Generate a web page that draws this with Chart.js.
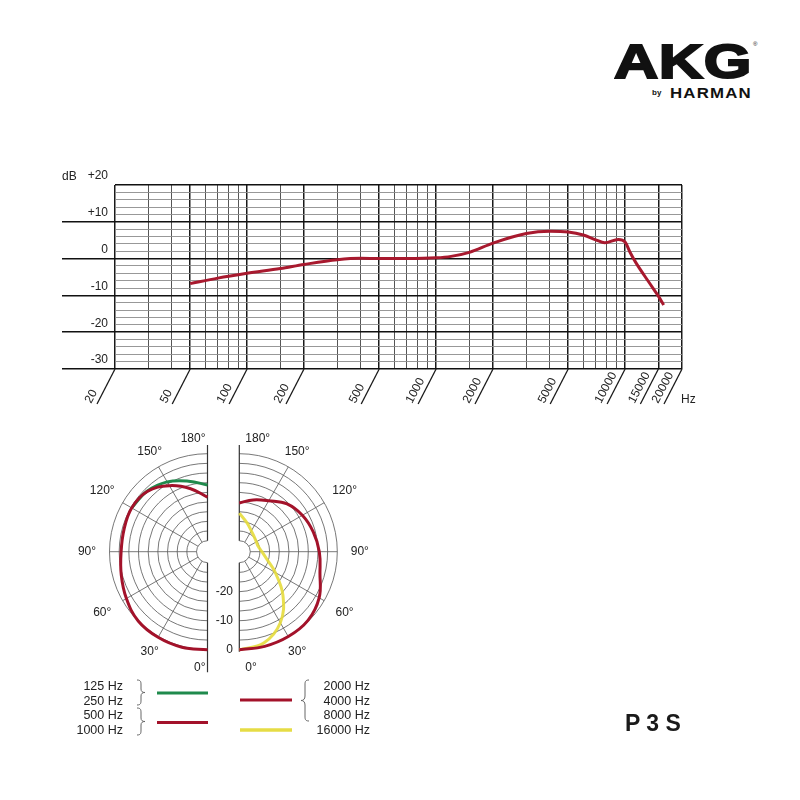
<!DOCTYPE html>
<html>
<head>
<meta charset="utf-8">
<script src="https://cdn.jsdelivr.net/npm/chart.js@4.4.1/dist/chart.umd.min.js"></script>
<style>
  body { margin: 0; background: #fff; }
  #page { position: relative; width: 800px; height: 800px; overflow: hidden;
          font-family: "Liberation Sans", Arial, sans-serif; color: #222; }
  .abs { position: absolute; white-space: nowrap; }
  #akg { left: 614px; top: 37px; font-size: 49px; font-weight: bold; line-height: 49px; color: #111;
         transform: scaleX(1.25); transform-origin: left top; -webkit-text-stroke: 2px #111; letter-spacing: 0.5px; }
  #reg { left: 753px; top: 41px; font-size: 6px; color: #111; }
  #by { left: 652px; top: 89px; font-size: 8px; font-weight: bold; color: #111; line-height: 8px; }
  #harman { left: 670px; top: 86px; font-size: 14px; line-height: 14px; font-weight: bold; color: #111;
            letter-spacing: 1px; transform: scaleX(1.2); transform-origin: left top; }
  #model { left: 625px; top: 712px; font-size: 23px; line-height: 23px; font-weight: bold; color: #1a1a1a; }
  .legtxt { font-size: 12.5px; line-height: 14.6px; text-align: right; color: #222; }
  #freqChart { position: absolute; left: 40px; top: 160px; }
  #polarChart { position: absolute; left: 60px; top: 420px; }
  #legendArt { position: absolute; left: 0; top: 0; }
</style>
</head>
<body>
<div id="page">
  <div class="abs" id="akg">AKG</div>
  <div class="abs" id="reg">®</div>
  <div class="abs" id="by">by</div>
  <div class="abs" id="harman">HARMAN</div>

  <canvas id="freqChart" width="680" height="260" style="width:680px;height:260px"></canvas>
  <canvas id="polarChart" width="330" height="270" style="width:330px;height:270px"></canvas>

  <svg id="legendArt" width="800" height="800">
    <g fill="none" stroke="#666" stroke-width="1">
      <path d="M137 680 C141 680 141 682 141 685 L141 689 C141 691.5 142.5 692.5 145 692.5 C142.5 692.5 141 693.5 141 696 L141 700 C141 703 141 705 137 705"/>
      <path d="M137 708 C141 708 141 710 141 713 L141 718 C141 720.5 142.5 721.5 145 721.5 C142.5 721.5 141 722.5 141 725 L141 730 C141 733 141 735 137 735"/>
      <path d="M309 680 C305 680 305 682 305 685 L305 696 C305 699 303.5 700.5 301 700.5 C303.5 700.5 305 702 305 705 L305 716 C305 719 305 721 309 721"/>
    </g>
    <line x1="157" y1="693" x2="208" y2="693" stroke="#1f8a4c" stroke-width="3"/>
    <line x1="157" y1="722.5" x2="208" y2="722.5" stroke="#a3122a" stroke-width="3"/>
    <line x1="240" y1="700" x2="292" y2="700" stroke="#a3122a" stroke-width="3"/>
    <line x1="240" y1="730" x2="292" y2="730" stroke="#e6dc45" stroke-width="3.5"/>
  </svg>
  <div class="abs legtxt" id="legLeft" style="left:50px;top:679px;width:73px"></div>
  <div class="abs legtxt" id="legRight" style="left:290px;top:679px;width:80px"></div>

  <div class="abs" id="model">P 3 S</div>
</div>

<script>
const FONT = '"Liberation Sans", Arial, sans-serif';

// Frequenzgang (Hz / dB)
const freqHz = [50, 70, 100, 150, 200, 300, 400, 500, 700, 1000, 1200, 1500, 2000, 3000, 4000,
                5000, 6000, 7000, 7800, 9200, 10000, 10600, 11400, 13400, 15000, 16000];
const responseDb = [-6.8, -5.3, -4.0, -2.7, -1.6, -0.3, 0.1, 0, 0, 0.2, 0.6, 1.7, 4.2, 6.8, 7.4,
                    7.2, 6.4, 5.1, 4.3, 5.2, 4.5, 1.8, -1.1, -6.5, -10.2, -12.6];

// grid + labels of the log axis
const gridHz = [20, 30, 40, 50, 60, 70, 80, 90, 100, 150, 200, 300, 400, 500, 600, 700, 800, 900,
                1000, 1500, 2000, 3000, 4000, 5000, 6000, 7000, 8000, 9000, 10000, 15000, 20000];
const labelHz = [20, 50, 100, 200, 500, 1000, 2000, 5000, 10000, 15000, 20000];
const hzLabels = ['20', '50', '100', '200', '500', '1000', '2000', '5000', '10000', '15000', '20000'];

// Polardiagramm: Winkel (Grad) / Pegel (dB)
const polarAngles = [0, 15, 30, 45, 60, 75, 90, 105, 120, 135, 150, 165, 180];
const db500to1000 = [0, 0.3, 0.3, 0, -1.5, -3, -4, -4, -3.6, -4.4, -7.5, -11.3, -15];
const lowAngles = [120, 135, 150, 165, 180];
const db125to250 = [-3.6, -4.3, -6.0, -8.6, -10.8];
const db2000to8000 = [0, 0, 0, -0.3, -2.0, -5.0, -6.2, -7.4, -8.7, -10.5, -13.5, -15.3, -17];
const db16000 = [0, -1.2, -5.5, -12.5, -19.5, -24, -26, -27, -27, -26.5, -25.5, -23.5, -20.5];

const spokeAngles = [30, 60, 90, 120, 150];
const angleLabels = ['0°', '30°', '60°', '90°', '120°', '150°', '180°'];
const ringLabels = ['0', '-10', '-20'];
const ringLabelDb = [0, -10, -20];

const legendLeft = ['125 Hz', '250 Hz', '500 Hz', '1000 Hz'];
const legendRight = ['2000 Hz', '4000 Hz', '8000 Hz', '16000 Hz'];

document.getElementById('legLeft').innerHTML = legendLeft.join('<br>');
document.getElementById('legRight').innerHTML = legendRight.join('<br>');

// ---------- Frequenzgang ----------
const freqDecor = {
    id: 'freqDecor',
    afterDraw(chart) {
        const {ctx, chartArea, scales: {x}} = chart;
        ctx.save();
        ctx.strokeStyle = '#1a1a1a';
        ctx.lineWidth = 1.3;
        ctx.fillStyle = '#222';
        ctx.font = '12px ' + FONT;
        labelHz.forEach((f, i) => {
            const px = x.getPixelForValue(f);
            ctx.beginPath();
            ctx.moveTo(px, chartArea.bottom);
            ctx.lineTo(px - 18, chartArea.bottom + 35);
            ctx.stroke();
            ctx.save();
            ctx.translate(px - 24, chartArea.bottom + 35);
            ctx.rotate(-62 * Math.PI / 180);
            ctx.textAlign = 'left';
            ctx.textBaseline = 'alphabetic';
            ctx.fillText(hzLabels[i], 0, 0);
            ctx.restore();
        });
        ctx.textAlign = 'left';
        ctx.textBaseline = 'middle';
        ctx.fillText('Hz', chartArea.right - 1, chartArea.bottom + 31);
        ctx.fillText('dB', chartArea.left - 53, chartArea.top - 8);
        ctx.restore();
    }
};

new Chart(document.getElementById('freqChart'), {
    type: 'scatter',
    data: {
        datasets: [{
            data: freqHz.map((f, i) => ({x: f, y: responseDb[i]})),
            showLine: true,
            borderColor: '#a8192e',
            borderWidth: 3,
            pointRadius: 0,
            cubicInterpolationMode: 'monotone'
        }]
    },
    options: {
        responsive: false,
        animation: false,
        layout: {padding: {left: 22, right: 38, top: 25, bottom: 51}},
        plugins: {legend: {display: false}, tooltip: {enabled: false}},
        scales: {
            x: {
                type: 'logarithmic',
                min: 20,
                max: 20000,
                afterBuildTicks: s => { s.ticks = gridHz.map(v => ({value: v})); },
                afterFit: s => { s.height = 0; },
                border: {display: false},
                ticks: {display: false},
                grid: {
                    drawTicks: false,
                    color: c => labelHz.includes(c.tick.value) ? '#1a1a1a' : '#555',
                    lineWidth: c => labelHz.includes(c.tick.value) ? 1.5 : 1
                }
            },
            y: {
                min: -30,
                max: 20,
                afterFit: s => { s.width = 53; },
                border: {display: false},
                grid: {
                    color: c => c.tick.value % 10 === 0 ? '#111' : '#8c8c8c',
                    lineWidth: c => c.tick.value % 10 === 0 ? 1.5 : 0.9,
                    tickLength: 53,
                    tickWidth: 1.5,
                    tickColor: c => (c.tick.value % 10 === 0 && c.tick.value !== 20) ? '#111' : 'rgba(0,0,0,0)'
                },
                ticks: {
                    stepSize: 2,
                    autoSkip: false,
                    padding: -46,
                    labelOffset: -9,
                    color: '#222',
                    font: {family: FONT, size: 12},
                    callback: v => v % 10 === 0 ? (v > 0 ? '+' + v : String(v)) : ''
                }
            }
        }
    },
    plugins: [freqDecor]
});

// ---------- Polardiagramm ----------
const HOLE = 0.112;          // inner hole as fraction of outer ring
const DB_MIN = -30;
const GAP = 0.3245;          // offset of the right half-circle
const rho = db => HOLE + (db - DB_MIN) / -DB_MIN * (1 - HOLE);

function polarPoints(cx, s, angles, dbs) {
    return angles.map((a, i) => {
        const r = rho(dbs[i]);
        const t = a * Math.PI / 180;
        return {x: cx + s * r * Math.sin(t), y: -r * Math.cos(t)};
    });
}

const sides = [
    {cx: 0, s: -1, top: 1.09, bottom: 1.23},
    {cx: GAP, s: 1, top: 1.09, bottom: 1.02}
];

const polarGrid = {
    id: 'polarGrid',
    beforeDatasetsDraw(chart) {
        const {ctx, scales: {x, y}} = chart;
        const unit = x.getPixelForValue(1) - x.getPixelForValue(0);
        const cy = y.getPixelForValue(0);
        ctx.save();
        sides.forEach(side => {
            const cx = x.getPixelForValue(side.cx);
            ctx.strokeStyle = '#555';
            ctx.lineWidth = 0.8;
            for (let i = 0; i <= 9; i++) {
                const r = rho(-i * 10 / 3) * unit;
                ctx.beginPath();
                if (side.s < 0) ctx.arc(cx, cy, r, Math.PI / 2, 3 * Math.PI / 2);
                else ctx.arc(cx, cy, r, -Math.PI / 2, Math.PI / 2);
                ctx.stroke();
            }
            spokeAngles.forEach(a => {
                const t = a * Math.PI / 180;
                ctx.beginPath();
                ctx.moveTo(cx + side.s * HOLE * unit * Math.sin(t), cy + HOLE * unit * Math.cos(t));
                ctx.lineTo(cx + side.s * unit * Math.sin(t), cy + unit * Math.cos(t));
                ctx.stroke();
            });
            ctx.strokeStyle = '#333';
            ctx.lineWidth = 1.2;
            ctx.beginPath();
            ctx.moveTo(cx, cy - side.top * unit);
            ctx.lineTo(cx, cy - HOLE * unit);
            ctx.moveTo(cx, cy + HOLE * unit);
            ctx.lineTo(cx, cy + side.bottom * unit);
            ctx.stroke();

            // Winkelbeschriftung
            ctx.fillStyle = '#222';
            ctx.font = '12px ' + FONT;
            ctx.textBaseline = 'middle';
            const labRho = [0, 1.18, 1.24, 1.23, 1.24, 1.18, 0];
            angleLabels.forEach((txt, k) => {
                const a = k * 30;
                if (a === 0 || a === 180) {
                    ctx.textAlign = side.s < 0 ? 'right' : 'left';
                    const lx = cx + (side.s < 0 ? -2 : 6);
                    const ly = a === 0 ? cy + 116 : cy - 113;
                    ctx.fillText(txt, lx, ly);
                } else {
                    const t = a * Math.PI / 180;
                    const r = labRho[k] * unit;
                    ctx.textAlign = 'center';
                    ctx.fillText(txt, cx + side.s * r * Math.sin(t), cy + r * Math.cos(t));
                }
            });
        });
        // dB-Beschriftung zwischen den Hälften
        ctx.textAlign = 'right';
        ringLabels.forEach((txt, i) => {
            ctx.fillText(txt, x.getPixelForValue(0.26), cy + rho(ringLabelDb[i]) * unit);
        });
        ctx.restore();
    }
};

const lineStyle = {showLine: true, pointRadius: 0, borderWidth: 3, tension: 0.4, fill: false};

new Chart(document.getElementById('polarChart'), {
    type: 'scatter',
    data: {
        datasets: [
            Object.assign({data: polarPoints(0, -1, polarAngles, db500to1000), borderColor: '#a3122a'}, lineStyle),
            Object.assign({data: polarPoints(GAP, 1, polarAngles, db2000to8000), borderColor: '#a3122a'}, lineStyle),
            Object.assign({data: polarPoints(0, -1, lowAngles, db125to250), borderColor: '#1f8a4c'}, lineStyle),
            Object.assign({data: polarPoints(GAP, 1, polarAngles, db16000), borderColor: 'rgba(230,220,60,0.9)'}, lineStyle)
        ]
    },
    options: {
        responsive: false,
        animation: false,
        layout: {padding: 0},
        plugins: {legend: {display: false}, tooltip: {enabled: false}},
        scales: {
            x: {type: 'linear', display: false, min: -1.5051, max: 1.8622},
            y: {type: 'linear', display: false, min: -1.4112, max: 1.3439}
        }
    },
    plugins: [polarGrid]
});
</script>
</body>
</html>
